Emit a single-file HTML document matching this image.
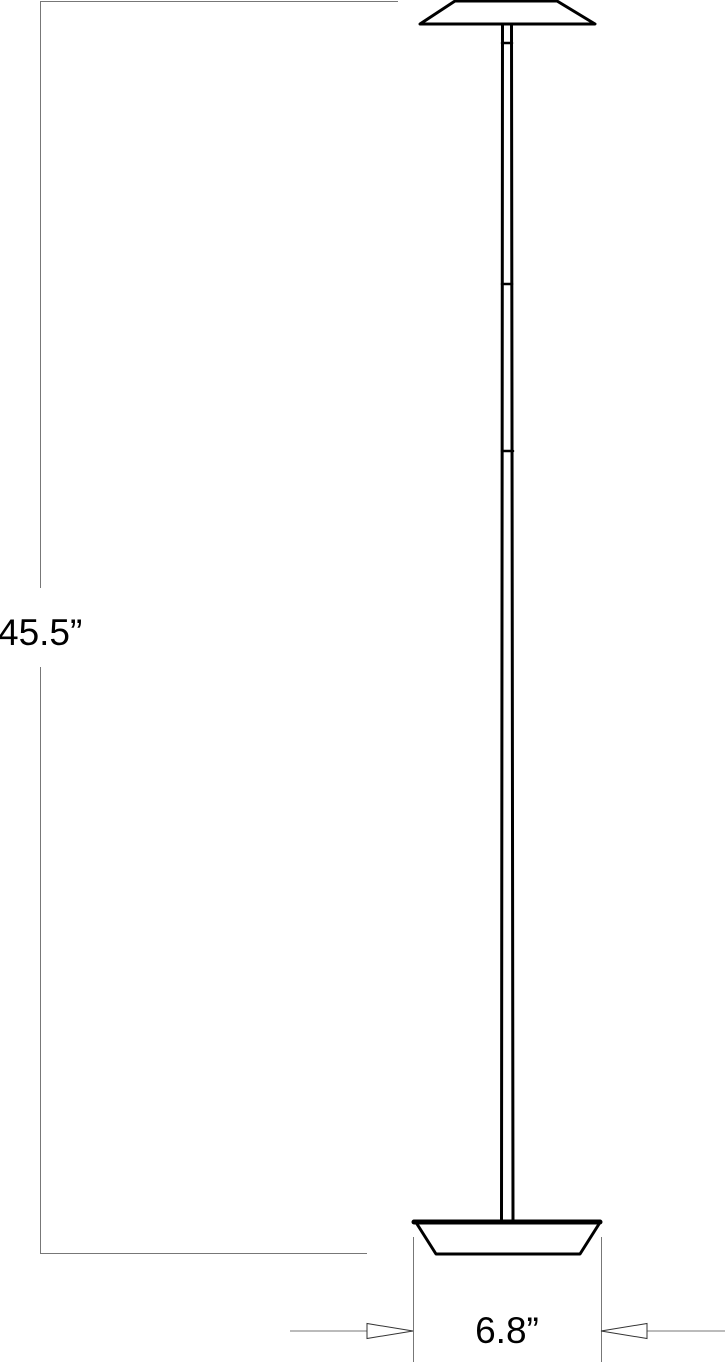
<!DOCTYPE html>
<html><head><meta charset="utf-8"><style>
html,body{margin:0;padding:0;background:#fff;}
svg{display:block}
text{font-family:"Liberation Sans",sans-serif;}
</style></head><body>
<svg width="725" height="1362" viewBox="0 0 725 1362" xmlns="http://www.w3.org/2000/svg">
<g stroke="#777" stroke-width="1" fill="none">
<polyline points="398,1.5 40.5,1.5 40.5,588"/>
<polyline points="40.5,667 40.5,1253.5 367,1253.5"/>
<line x1="413.5" y1="1237" x2="413.5" y2="1362"/>
<line x1="601.5" y1="1237" x2="601.5" y2="1362"/>
<line x1="290" y1="1331" x2="367" y2="1331"/>
<line x1="647" y1="1331" x2="725" y2="1331"/>
</g>
<g stroke="#333" stroke-width="1" fill="none">
<polygon points="367,1323.5 367,1338.5 413,1331"/>
<polygon points="647,1323.5 647,1338.5 601,1331"/>
</g>
<g stroke="#000" fill="none" stroke-linejoin="round" stroke-linecap="round">
<polygon points="455,1 557,1 595,24 420,24" stroke-width="3"/>
<line x1="502.5" y1="25" x2="501.5" y2="1221" stroke-width="3"/>
<line x1="511.5" y1="25" x2="513" y2="1221" stroke-width="3"/>
<line x1="502" y1="43" x2="512" y2="43" stroke-width="2.5"/>
<line x1="502" y1="284" x2="512" y2="284" stroke-width="2.5"/>
<line x1="502" y1="451" x2="513" y2="451" stroke-width="2.5"/>
<line x1="414" y1="1222" x2="600" y2="1222" stroke-width="5"/>
<polyline points="417,1224 436,1254 580,1254 599,1224" stroke-width="3"/>
</g>
<text x="-2" y="645" font-size="37" fill="#000">45.5”</text>
<text x="507" y="1343" font-size="37" fill="#000" text-anchor="middle">6.8”</text>
</svg>
</body></html>
